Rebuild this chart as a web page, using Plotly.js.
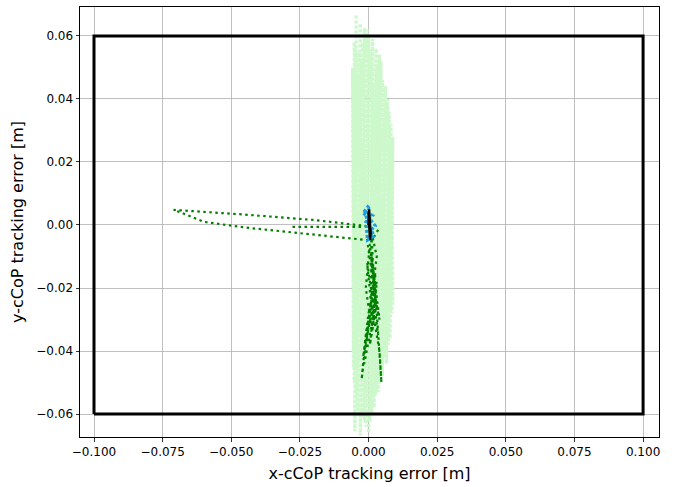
<!DOCTYPE html>
<html>
<head>
<meta charset="utf-8">
<script src="https://cdn.plot.ly/plotly-3.0.1.min.js"></script>
<style>body{margin:0;padding:0;background:#fff;} #chart{width:680px;height:487px;}</style>
</head>
<body>
<div id="chart"></div>
<script>
// Support polygon (rectangle) corners
const rectX = [-0.1, 0.1, 0.1, -0.1, -0.1];
const rectY = [-0.06, -0.06, 0.06, 0.06, -0.06];

// Light green trajectory (wide vertical oscillation)
const lightX = [-0.0045, -0.0050, -0.0030, -0.0030, -0.0015, -0.0010, 0.0000, 0.0005, 0.0015, 0.0020,
  0.0028, 0.0035, 0.0045, 0.0050, 0.0062, 0.0065, 0.0075, 0.0078, 0.0088, 0.0085,
  0.0070, -0.0055, -0.0058, -0.0040, -0.0052, -0.0020, -0.0035, 0.0010, 0.0030, 0.0040,
  -0.0040, -0.0055, 0.0055, 0.0060, -0.0025, -0.0045, 0.0020, 0.0000, -0.0010, 0.0080,
  0.0068, 0.0072, 0.0082, 0.0058, 0.0040, 0.0025, -0.0048, -0.0035, -0.0020, -0.0015,
  0.0008, 0.0012, 0.0035, 0.0045, 0.0050, 0.0030, -0.0056, -0.0052, 0.0085, 0.0088,
  0.0060, -0.0005, -0.0005, 0.0070];
const lightY = [0.0665, -0.0655, 0.0640, -0.0668, 0.0625, -0.0640, 0.0600, -0.0625, 0.0590, -0.0580,
  0.0560, -0.0530, 0.0520, -0.0480, 0.0440, -0.0440, 0.0360, -0.0360, 0.0280, -0.0280,
  0.0400, -0.0450, 0.0500, -0.0600, 0.0580, -0.0610, 0.0550, -0.0560, 0.0500, -0.0500,
  0.0480, -0.0400, 0.0300, -0.0300, 0.0520, -0.0520, 0.0450, -0.0660, 0.0600, -0.0200,
  0.0380, -0.0380, 0.0320, -0.0420, 0.0540, -0.0540, 0.0560, -0.0580, 0.0580, -0.0620,
  0.0560, -0.0600, 0.0480, -0.0460, 0.0460, -0.0520, 0.0450, -0.0500, 0.0250, -0.0250,
  0.0420, -0.0580, 0.0620, -0.0340];

// Dark green trajectory
const darkX = [-0.0277, -0.0150, -0.0030, -0.0010, -0.0200, -0.0450, -0.0710, -0.0670, -0.0600, -0.0450,
  -0.0270, -0.0120, -0.0005, 0.0020, -0.0010, -0.0025, 0.0000, 0.0030, 0.0010, 0.0010,
  0.0040, 0.0047, 0.0030, 0.0005, -0.0010, 0.0010, -0.0015, 0.0005, 0.0025, 0.0015,
  -0.0005, 0.0035, 0.0020, -0.0020, 0.0000, 0.0030, 0.0015, 0.0025, 0.0005, 0.0028,
  0.0010, 0.0040, 0.0018, -0.0008, 0.0022, 0.0012, 0.0035];
const darkY = [-0.0006, -0.0006, -0.0006, -0.0003, 0.0016, 0.0033, 0.0048, 0.0035, 0.0010, -0.0008,
  -0.0025, -0.0038, -0.0048, -0.0200, -0.0350, -0.0490, -0.0300, -0.0100, -0.0020, -0.0250,
  -0.0400, -0.0500, -0.0280, -0.0060, -0.0200, -0.0320, -0.0440, -0.0260, -0.0150, -0.0300,
  -0.0120, -0.0350, -0.0240, -0.0420, -0.0280, -0.0180, -0.0330, -0.0220, -0.0380, -0.0260,
  -0.0090, -0.0300, -0.0200, -0.0360, -0.0230, -0.0050, -0.0015];

// Blue trajectory
const blueX = [0.0000, 0.0001, -0.0020, 0.0005, 0.0025, 0.0010, 0.0020, -0.0004, -0.0010, 0.0015, -0.0015, 0.0008];
const blueY = [0.0000, 0.0063, 0.0038, 0.0020, -0.0003, -0.0015, -0.0035, -0.0048, 0.0010, 0.0030, 0.0045, -0.0025];

// Black trajectory
const blackX = [0.0000, 0.0002, 0.0007, 0.0003, 0.0008, 0.0000, 0.0005];
const blackY = [0.0000, 0.0050, -0.0048, 0.0030, -0.0030, 0.0040, -0.0040];

// Tick labels
const xTickVals = [-0.1, -0.075, -0.05, -0.025, 0, 0.025, 0.05, 0.075, 0.1];
const xTickText = ["\u22120.100", "\u22120.075", "\u22120.050", "\u22120.025", "0.000", "0.025", "0.050", "0.075", "0.100"];
const yTickVals = [-0.06, -0.04, -0.02, 0, 0.02, 0.04, 0.06];
const yTickText = ["\u22120.06", "\u22120.04", "\u22120.02", "0.00", "0.02", "0.04", "0.06"];

const traces = [
  {x: lightX, y: lightY, mode: 'lines', type: 'scatter',
   line: {color: 'rgb(204,248,204)', width: 3.4, dash: '3px,2px'}, hoverinfo: 'skip'},
  {x: rectX, y: rectY, mode: 'lines', type: 'scatter',
   line: {color: '#000000', width: 3}, hoverinfo: 'skip'},
  {x: darkX, y: darkY, mode: 'lines', type: 'scatter',
   line: {color: '#007f00', width: 2.2, dash: '2.5px,3.5px'}, hoverinfo: 'skip'},
  {x: blueX, y: blueY, mode: 'lines', type: 'scatter',
   line: {color: '#1f9be6', width: 3, dash: '3px,2px'}, hoverinfo: 'skip'},
  {x: blackX, y: blackY, mode: 'lines', type: 'scatter',
   line: {color: '#000000', width: 2.5}, hoverinfo: 'skip'}
];

const axisCommon = {
  showline: true, mirror: true, linecolor: '#000', linewidth: 1,
  showgrid: true, gridcolor: '#b0b0b0', gridwidth: 0.8,
  zeroline: false, ticks: 'outside', ticklen: 3.5, tickwidth: 0.8, tickcolor: '#000',
  tickfont: {family: 'DejaVu Sans', size: 12, color: '#000'}
};

const layout = {
  width: 680, height: 487,
  margin: {l: 80, r: 21, t: 7, b: 50},
  paper_bgcolor: '#fff', plot_bgcolor: '#fff',
  showlegend: false,
  xaxis: Object.assign({}, axisCommon, {
    range: [-0.1051, 0.1058], tickmode: 'array', tickvals: xTickVals, ticktext: xTickText,
    title: {text: 'x-cCoP tracking error [m]', font: {family: 'DejaVu Sans', size: 16, color: '#000'}, standoff: 9}
  }),
  yaxis: Object.assign({}, axisCommon, {
    range: [-0.0673, 0.0692], tickmode: 'array', tickvals: yTickVals, ticktext: yTickText,
    title: {text: 'y-cCoP tracking error [m]', font: {family: 'DejaVu Sans', size: 16, color: '#000'}, standoff: 8}
  })
};

Plotly.newPlot('chart', traces, layout, {displayModeBar: false, staticPlot: true});
</script>
</body>
</html>
